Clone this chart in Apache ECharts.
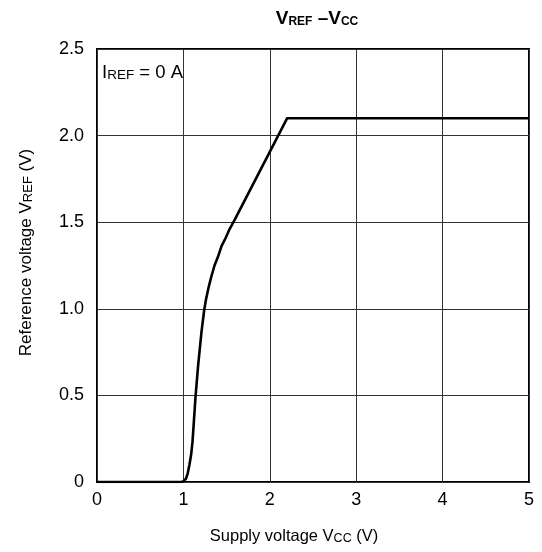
<!DOCTYPE html>
<html>
<head>
<meta charset="utf-8">
<script src="https://cdn.jsdelivr.net/npm/echarts@6/dist/echarts.min.js"></script>
<style>
  html, body { margin: 0; padding: 0; background: #fff; }
  #chart { width: 542px; height: 552px; }
</style>
</head>
<body>
<div id="chart"></div>
<script>
// Supply voltage (V) and reference voltage (V) at IREF = 0 A
const vcc  = [0, 0.97, 1.0,   1.03, 1.05, 1.07, 1.09, 1.105, 1.12, 1.14, 1.17, 1.21, 1.24, 1.26, 1.29, 1.32, 1.36, 1.40, 1.44, 1.49, 1.53,  1.59, 2.20, 5.0];
const vref = [0, 0,    0.003, 0.02, 0.05, 0.10, 0.16, 0.23,  0.34, 0.49, 0.67, 0.87, 0.99, 1.05, 1.12, 1.18, 1.25, 1.30, 1.36, 1.41, 1.455, 1.51, 2.10, 2.10];

const xTicks = [0, 1, 2, 3, 4, 5];
const yTicks = [0, 0.5, 1.0, 1.5, 2.0, 2.5];

const FONT = '"Liberation Sans", Arial, sans-serif';

const chart = echarts.init(document.getElementById('chart'), null, { renderer: 'canvas' });

chart.setOption({
  animation: false,
  backgroundColor: '#fff',
  title: {
    text: '{b|V}{s|REF}{b| –V}{s|CC}',
    left: 312,
    textAlign: 'center',
    top: 4,
    textStyle: {
      rich: {
        b: { fontFamily: FONT, fontSize: 19, fontWeight: 'bold', color: '#000', verticalAlign: 'bottom' },
        s: { fontFamily: FONT, fontSize: 12, fontWeight: 'bold', color: '#000', verticalAlign: 'bottom' }
      }
    }
  },
  grid: {
    left: 97, right: 13, top: 49, bottom: 70,
    show: true, borderColor: '#000', borderWidth: 2, backgroundColor: 'transparent'
  },
  xAxis: {
    type: 'value', min: 0, max: 5, interval: 1,
    name: '{n|Supply voltage V}{s|CC}{n| (V)}',
    nameLocation: 'middle', nameGap: 46,
    nameTextStyle: {
      padding: [0, 38, 0, 0],
      rich: {
        n: { fontFamily: FONT, fontSize: 16.5, color: '#000', verticalAlign: 'bottom' },
        s: { fontFamily: FONT, fontSize: 12.5, color: '#000', verticalAlign: 'bottom' }
      }
    },
    axisLine: { show: false },
    axisTick: { show: false },
    axisLabel: {
      fontFamily: FONT, fontSize: 18, color: '#000', margin: 9,
      formatter: v => xTicks.includes(v) ? String(v) : ''
    },
    splitLine: { show: true, lineStyle: { color: '#333', width: 1 } }
  },
  yAxis: {
    type: 'value', min: 0, max: 2.5, interval: 0.5,
    name: '{n|Reference voltage V}{s|REF}{n| (V)}',
    nameLocation: 'middle', nameGap: 62, nameRotate: 90,
    nameTextStyle: {
      padding: [0, 0, 0, 26],
      rich: {
        n: { fontFamily: FONT, fontSize: 17, color: '#000', verticalAlign: 'bottom' },
        s: { fontFamily: FONT, fontSize: 13, color: '#000', verticalAlign: 'bottom' }
      }
    },
    axisLine: { show: false },
    axisTick: { show: false },
    axisLabel: {
      fontFamily: FONT, fontSize: 18, color: '#000', margin: 13,
      formatter: v => {
        const t = yTicks.find(k => Math.abs(k - v) < 1e-9);
        return t === undefined ? '' : (t === 0 ? '0' : t.toFixed(1));
      }
    },
    splitLine: { show: true, lineStyle: { color: '#333', width: 1 } }
  },
  graphic: [{
    type: 'text',
    left: 102, top: 63,
    style: {
      text: '{n|I}{s|REF}{n| = 0 A}',
      rich: {
        n: { fontFamily: FONT, fontSize: 18.5, fill: '#000', verticalAlign: 'bottom' },
        s: { fontFamily: FONT, fontSize: 13.5, fill: '#000', verticalAlign: 'bottom' }
      }
    },
    z: 10
  }],
  series: [{
    type: 'line',
    data: vcc.map((x, i) => [x, vref[i]]),
    showSymbol: false,
    smooth: false,
    lineStyle: { color: '#000', width: 2.6, join: 'round' },
    z: 5
  }]
});
</script>
</body>
</html>
